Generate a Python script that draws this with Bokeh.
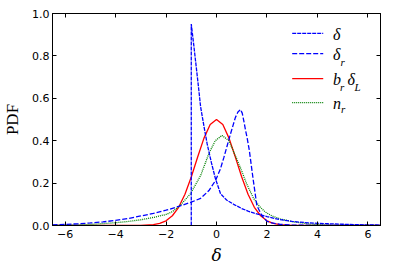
from bokeh.plotting import figure
from bokeh.models import (Range1d, FixedTicker, LinearAxis, CustomJSTickFormatter,
                          Label, Arrow)
from bokeh.embed import file_html
from bokeh.resources import INLINE

# ---- data ----
delta_x = [-1.0, -1.0, -0.9, -0.72, -0.63, -0.5, -0.37, -0.2, -0.04, 0.16, 0.4, 0.68,
           1.0, 1.25, 1.5, 1.75, 2.0, 2.5, 3.0, 3.5, 4.0, 4.5, 5.0, 5.5, 6.0, 6.5]
delta_y = [0.0, 0.95, 0.85, 0.66, 0.56, 0.47, 0.385, 0.295, 0.22, 0.15, 0.12, 0.10,
           0.08, 0.068, 0.058, 0.05, 0.042, 0.028, 0.019, 0.014, 0.010, 0.008, 0.006,
           0.004, 0.003, 0.002]

deltar_x = [-6.5, -6.0, -5.5, -5.0, -4.5, -4.0, -3.5, -3.0, -2.5, -2.0, -1.5, -1.0, -0.63,
            -0.3, -0.04, 0.15, 0.29, 0.42, 0.55, 0.65, 0.75, 0.85, 0.95, 1.02, 1.08, 1.15,
            1.21, 1.3, 1.45, 1.6, 1.8, 2.0, 2.2, 2.5, 3.0, 4.0, 6.5]
deltar_y = [0.003, 0.005, 0.008, 0.012, 0.017, 0.024, 0.033, 0.045, 0.057, 0.072, 0.09,
            0.11, 0.128, 0.165, 0.212, 0.265, 0.32, 0.375, 0.43, 0.47, 0.51, 0.535, 0.547,
            0.53, 0.495, 0.45, 0.416, 0.355, 0.22, 0.094, 0.046, 0.02, 0.012, 0.006, 0.002,
            0.0005, 0.0]

brdl_x = [-6.5, -3.5, -3.0, -2.5, -2.25, -2.0, -1.75, -1.5, -1.25, -1.0, -0.75, -0.5, -0.25,
          0.0, 0.25, 0.5, 0.75, 1.0, 1.25, 1.5, 1.75, 2.0, 2.25, 2.5, 3.0, 3.5, 6.5]
brdl_y = [0.0, 0.0, 0.0004, 0.0038, 0.0096, 0.022, 0.046, 0.086, 0.147, 0.229, 0.322, 0.411,
          0.476, 0.50, 0.476, 0.411, 0.322, 0.229, 0.147, 0.086, 0.046, 0.022, 0.0096,
          0.0038, 0.0004, 0.0, 0.0]

nr_x = [-6.5, -6.0, -5.5, -5.0, -4.5, -4.0, -3.5, -3.0, -2.5, -2.0, -1.75, -1.42, -1.03,
        -0.63, -0.3, -0.05, 0.22, 0.49, 0.69, 0.95, 1.2, 1.47, 1.7, 1.94, 2.2, 2.53, 3.0,
        3.32, 3.7, 4.1, 4.5, 5.0, 5.5, 6.5]
nr_y = [0.001, 0.002, 0.003, 0.005, 0.009, 0.013, 0.019, 0.027, 0.038, 0.052, 0.065, 0.097,
        0.15, 0.235, 0.34, 0.40, 0.425, 0.40, 0.345, 0.272, 0.195, 0.128, 0.09, 0.063,
        0.045, 0.031, 0.018, 0.013, 0.007, 0.004, 0.002, 0.001, 0.0005, 0.0]

x_ticks = [-6, -4, -2, 0, 2, 4, 6]
y_ticks = [0.0, 0.2, 0.4, 0.6, 0.8, 1.0]

BLUE = "#0000ff"
RED = "#ff0000"
GREEN = "#008000"

p = figure(width=399, height=269, x_range=Range1d(-6.5, 6.5), y_range=Range1d(0, 1),
           output_backend="svg", toolbar_location=None,
           min_border_left=52, min_border_right=19, min_border_top=13, min_border_bottom=44)
p.grid.visible = False
p.outline_line_color = "black"
p.background_fill_color = "white"
p.border_fill_color = "white"

xfmt = CustomJSTickFormatter(code="return tick < 0 ? '\u2212' + Math.abs(tick) : String(tick);")
yfmt = CustomJSTickFormatter(code="return tick.toFixed(1);")
blank = CustomJSTickFormatter(code="return '';")

xa = p.below[0]
ya = p.left[0]
for ax, tk, fmt in ((xa, x_ticks, xfmt), (ya, y_ticks, yfmt)):
    ax.ticker = FixedTicker(ticks=tk)
    ax.formatter = fmt
    ax.major_tick_in = 4
    ax.major_tick_out = 0
    ax.minor_tick_line_color = None
    ax.axis_line_color = "black"
    ax.major_tick_line_color = "black"
    ax.major_label_text_font = "DejaVu Sans"
    ax.major_label_text_font_size = "11px"
    ax.major_label_text_color = "black"
    ax.axis_label_text_color = "black"
xa.major_label_standoff = 4
ya.major_label_standoff = 3
xa.axis_label = "δ"
xa.axis_label_text_font = "DejaVu Serif"
xa.axis_label_text_font_style = "italic"
xa.axis_label_text_font_size = "17px"
xa.axis_label_standoff = 4
ya.axis_label = "PDF"
ya.axis_label_text_font = "Liberation Serif"
ya.axis_label_text_font_style = "normal"
ya.axis_label_text_font_size = "17px"
ya.axis_label_standoff = 7

top = LinearAxis(ticker=FixedTicker(ticks=x_ticks), formatter=blank,
                 major_tick_in=4, major_tick_out=0, minor_tick_line_color=None,
                 major_label_standoff=0, axis_line_color="black")
right = LinearAxis(ticker=FixedTicker(ticks=y_ticks), formatter=blank,
                   major_tick_in=4, major_tick_out=0, minor_tick_line_color=None,
                   major_label_standoff=0, axis_line_color="black")
p.add_layout(top, "above")
p.add_layout(right, "right")

lw = 1.3
p.line(brdl_x, brdl_y, line_color=RED, line_width=lw)
p.line(nr_x, nr_y, line_color=GREEN, line_width=lw, line_dash="1 1")
p.line(deltar_x, deltar_y, line_color=BLUE, line_width=lw, line_dash="5 2")
p.line(delta_x, delta_y, line_color=BLUE, line_width=lw, line_dash="4 1")

# ---- legend (drawn by hand to allow subscripts) ----
leg_rows = [0.906, 0.811, 0.693, 0.580]
leg_styles = [(BLUE, "4 1"), (BLUE, "5 2"), (RED, "solid"), (GREEN, "1 1")]
lx0, lx1, tx = 3.0, 4.23, 4.62
for yy, (c, d) in zip(leg_rows, leg_styles):
    p.add_layout(Arrow(end=None, x_start=lx0, y_start=yy, x_end=lx1, y_end=yy,
                       line_color=c, line_width=lw, line_dash=d))

def lab(text, yy, xoff, yoff, size):
    p.add_layout(Label(x=tx, y=yy, x_offset=xoff, y_offset=yoff, text=text,
                       text_font="Liberation Serif", text_font_style="italic",
                       text_font_size=size, text_baseline="middle", text_color="black"))

big, small = "16px", "11px"
lab("δ", leg_rows[0], 0, -1, big)
lab("δ", leg_rows[1], 0, -1, big)
lab("r", leg_rows[1], 7.5, -8, small)
lab("b", leg_rows[2], 0, -1, big)
lab("r", leg_rows[2], 7, -8, small)
lab("δ", leg_rows[2], 14.5, -1, big)
lab("L", leg_rows[2], 21.5, -8, small)
lab("n", leg_rows[3], 0, -1, big)
lab("r", leg_rows[3], 8, -6, small)

open("out.html", "w").write(file_html(p, INLINE))
